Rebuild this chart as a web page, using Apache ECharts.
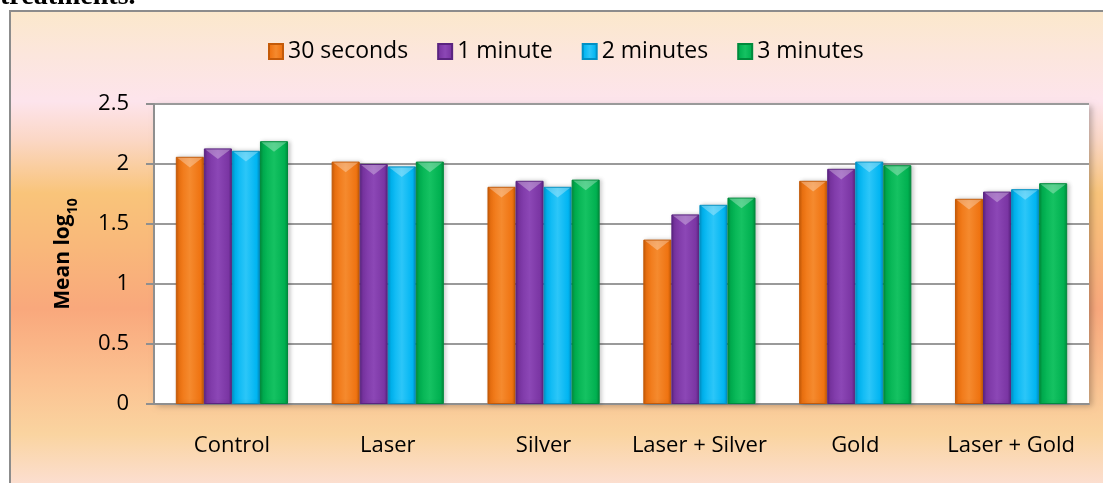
<!DOCTYPE html>
<html>
<head>
<meta charset="utf-8">
<script src="https://cdn.jsdelivr.net/npm/echarts@6/dist/echarts.min.js"></script>
<style>
  html, body { margin: 0; padding: 0; background: #fff; }
  #chart { width: 1103px; height: 483px; }
</style>
</head>
<body>
<div id="chart"></div>
<script>
// Treatment groups and exposure times
const categories = ['Control', 'Laser', 'Silver', 'Laser + Silver', 'Gold', 'Laser + Gold'];
const seriesNames = ['30 seconds', '1 minute', '2 minutes', '3 minutes'];

// Mean log10 counts per group
const sec30 = [2.06, 2.02, 1.81, 1.37, 1.86, 1.71];
const min1  = [2.13, 2.00, 1.86, 1.58, 1.96, 1.77];
const min2  = [2.11, 1.98, 1.81, 1.66, 2.02, 1.79];
const min3  = [2.19, 2.02, 1.87, 1.72, 1.99, 1.84];

const yTicks = { min: 0, max: 2.5, step: 0.5 };

const palette = [
  { base: '#ef7311', light: '#f58a2e', dark: '#c45a08' },
  { base: '#7a35a3', light: '#8c47b6', dark: '#5a2480' },
  { base: '#00b5f2', light: '#2cc6f8', dark: '#0090c4' },
  { base: '#00b050', light: '#15c262', dark: '#008a3c' }
];

const font = '"Open Sans", Lato, "Liberation Sans", sans-serif';
const CATEGORY_GAP = 0.28;

function barColor(c) {
  return new echarts.graphic.LinearGradient(0, 0, 1, 0, [
    { offset: 0, color: c.dark },
    { offset: 0.12, color: c.base },
    { offset: 0.5, color: c.light },
    { offset: 0.88, color: c.base },
    { offset: 1, color: c.dark }
  ]);
}

const values = [sec30, min1, min2, min3];

// bevel highlight data: [category index, value, series index]
const bevelData = [];
values.forEach((arr, k) => arr.forEach((v, j) => bevelData.push([j, v, k])));

function renderBevel(params, api) {
  const cat = api.value(0), v = api.value(1), k = api.value(2);
  const bandW = api.size([1, 0])[0];
  const groupW = bandW * (1 - CATEGORY_GAP);
  const barW = groupW / values.length;
  const top = api.coord([cat, v]);
  const x0 = top[0] - groupW / 2 + k * barW;
  const h = barW * 0.38;
  return {
    type: 'polygon',
    shape: {
      points: [
        [x0 + 1.5, top[1] + 1],
        [x0 + barW - 1.5, top[1] + 1],
        [x0 + barW / 2, top[1] + h]
      ]
    },
    style: { fill: 'rgba(255,255,255,0.3)' }
  };
}

const chart = echarts.init(document.getElementById('chart'), null, { renderer: 'canvas' });

chart.setOption({
  animation: false,
  textStyle: { fontFamily: font },
  graphic: {
    elements: [
      {
        type: 'rect',
        z: -10,
        shape: { x: 10, y: 11, width: 1100, height: 480 },
        style: {
          stroke: '#8c8c8c',
          lineWidth: 2,
          fill: new echarts.graphic.LinearGradient(0, 0, 0, 1, [
            { offset: 0.00, color: '#fbe8cb' },
            { offset: 0.09, color: '#fce6dc' },
            { offset: 0.19, color: '#fde4ec' },
            { offset: 0.27, color: '#fbd7c5' },
            { offset: 0.38, color: '#f9c47a' },
            { offset: 0.49, color: '#f9b87a' },
            { offset: 0.62, color: '#f9a87c' },
            { offset: 0.76, color: '#fbc090' },
            { offset: 0.88, color: '#fad4a0' },
            { offset: 1.00, color: '#fce0d8' }
          ])
        }
      },
      {
        type: 'text',
        z: 10,
        style: {
          x: 0,
          y: 11,
          text: 'treatments.',
          font: 'bold 28px "Liberation Serif", "DejaVu Serif", serif',
          fill: '#000',
          verticalAlign: 'bottom'
        }
      }
    ]
  },
  legend: {
    left: 263,
    top: 35,
    itemWidth: 14,
    itemHeight: 15,
    itemGap: 29,
    icon: 'rect',
    textStyle: { fontFamily: font, fontSize: 23, color: '#000' },
    data: seriesNames
  },
  grid: {
    left: 154,
    right: 14,
    top: 104,
    bottom: 79,
    show: true,
    backgroundColor: '#ffffff',
    borderWidth: 0,
    shadowBlur: 6,
    shadowColor: 'rgba(0,0,0,0.25)',
    shadowOffsetX: 3,
    shadowOffsetY: 2
  },
  xAxis: {
    type: 'category',
    data: categories,
    axisLine: { show: true, lineStyle: { color: '#8f8f8f', width: 2 } },
    axisTick: { show: false },
    axisLabel: { color: '#000', fontSize: 22, fontFamily: font, margin: 31, interval: 0 }
  },
  yAxis: {
    type: 'value',
    min: yTicks.min,
    max: yTicks.max,
    interval: yTicks.step,
    name: '{a|Mean log}{s|10}',
    nameLocation: 'middle',
    nameGap: 80,
    nameRotate: 90,
    nameTextStyle: {
      rich: {
        a: { fontFamily: font, fontSize: 21, fontWeight: 'bold', color: '#000', lineHeight: 28, verticalAlign: 'bottom' },
        s: { fontFamily: font, fontSize: 14, fontWeight: 'bold', color: '#000', lineHeight: 28, verticalAlign: 'bottom', padding: [0, 0, -6, 0] }
      }
    },
    axisLine: { show: true, lineStyle: { color: '#8f8f8f', width: 2 } },
    axisTick: { show: true, inside: false, length: 8, lineStyle: { color: '#8f8f8f', width: 2 } },
    axisLabel: { color: '#000', fontSize: 22, fontFamily: font, margin: 25 },
    splitLine: { show: true, lineStyle: { color: '#9a9a9a', width: 2 } }
  },
  series: seriesNames.map((name, i) => ({
    name: name,
    type: 'bar',
    data: values[i],
    barGap: '0%',
    barCategoryGap: (CATEGORY_GAP * 100) + '%',
    color: palette[i].base,
    itemStyle: {
      color: barColor(palette[i]),
      borderColor: palette[i].dark,
      borderWidth: 1,
      shadowBlur: 4,
      shadowColor: 'rgba(0,0,0,0.2)',
      shadowOffsetX: 2,
      shadowOffsetY: 0
    }
  })).concat([{
    type: 'custom',
    name: 'bevel',
    data: bevelData,
    renderItem: renderBevel,
    silent: true,
    z: 5
  }])
});
</script>
</body>
</html>
